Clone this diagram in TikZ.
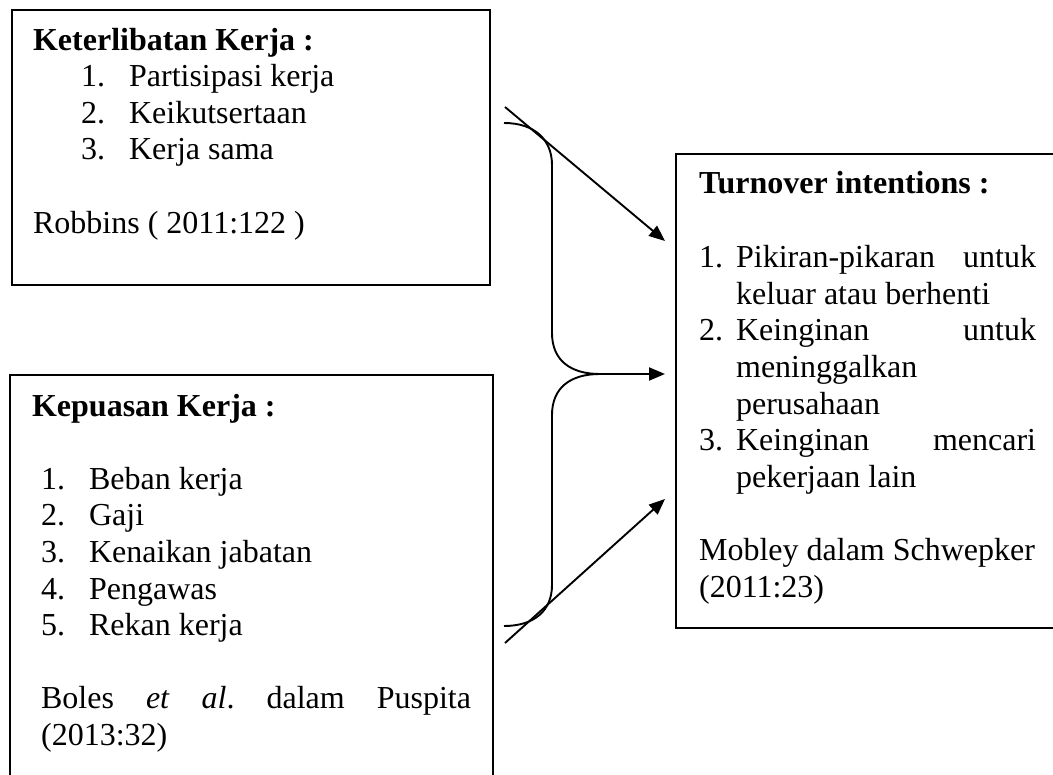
\documentclass[tikz,border=0pt]{standalone}
\usepackage{fontspec}
\setmainfont{Liberation Serif}
\usepackage{tikz}
\usetikzlibrary{arrows.meta}

\begin{document}
\begin{tikzpicture}
			[x=1pt, y=-1pt, thick,
			 kotak/.style = {draw, line width=2.2pt, inner sep=0pt, anchor=north west, font=\fontsize{32}{36.6}\selectfont},
			 panah/.style = {-{Triangle[length=16pt, width=13pt]}, line width=1.9pt},
			 kurung/.style = {line width=1.9pt}]
			\clip (0,0) rectangle (1053,775);
			\node[kotak] (keterlibatan) at (11,9) {\parbox[c][275pt][t]{478pt}{\leftskip=21pt\rightskip=21pt
				\rule{0pt}{40pt}\textbf{Keterlibatan Kerja :}\\
				\hspace*{48pt}\makebox[48pt][l]{1.}Partisipasi kerja\\
				\hspace*{48pt}\makebox[48pt][l]{2.}Keikutsertaan\\
				\hspace*{48pt}\makebox[48pt][l]{3.}Kerja sama\\[36.6pt]
				Robbins ( 2011:122 )}};
			\node[kotak] (kepuasan) at (9,374) {\parbox[c][440pt][t]{483pt}{\leftskip=31pt\rightskip=22pt
				\rule{0pt}{41pt}\hspace*{-9pt}\textbf{Kepuasan Kerja :}\\[36.6pt]
				\makebox[48pt][l]{1.}Beban kerja\\
				\makebox[48pt][l]{2.}Gaji\\
				\makebox[48pt][l]{3.}Kenaikan jabatan\\
				\makebox[48pt][l]{4.}Pengawas\\
				\makebox[48pt][l]{5.}Rekan kerja\\[36.6pt]
				Boles\hfill\textit{et}\hfill\textit{al}.\hfill dalam\hfill Puspita\\
				(2013:32)}};
			\node[kotak] (turnover) at (675,153) {\parbox[c][474pt][t]{400pt}{\leftskip=23pt\rightskip=40pt
				\rule{0pt}{39pt}\textbf{Turnover intentions :}\\[38pt]
				\makebox[37pt][l]{1.}Pikiran-pikaran\hfill untuk\\
				\hspace*{37pt}keluar atau berhenti\\
				\makebox[37pt][l]{2.}Keinginan\hfill untuk\\
				\hspace*{37pt}meninggalkan\\
				\hspace*{37pt}perusahaan\\
				\makebox[37pt][l]{3.}Keinginan\hfill mencari\\
				\hspace*{37pt}pekerjaan lain\\[36.6pt]
				Mobley dalam Schwepker\\
				(2011:23)}};
			\coordinate (ujung) at (600,374);
			\coordinate (k1) at (505,107);
			\coordinate (t1) at (665,241);
			\coordinate (t2) at (665,374);
			\coordinate (k3) at (505,643);
			\coordinate (t3) at (665,499);
			\draw[kurung] (504,123) .. controls (535,123) and (552,140) .. (552,165)
				-- (552,333) .. controls (552,360) and (570,374) .. (ujung)
				.. controls (570,374) and (552,388) .. (552,415)
				-- (552,585) .. controls (552,610) and (535,626) .. (504,626);
			\draw[panah] (k1) -- (t1);
			\draw[panah] (ujung) -- (t2);
			\draw[panah] (k3) -- (t3);
		\end{tikzpicture}
\end{document}
